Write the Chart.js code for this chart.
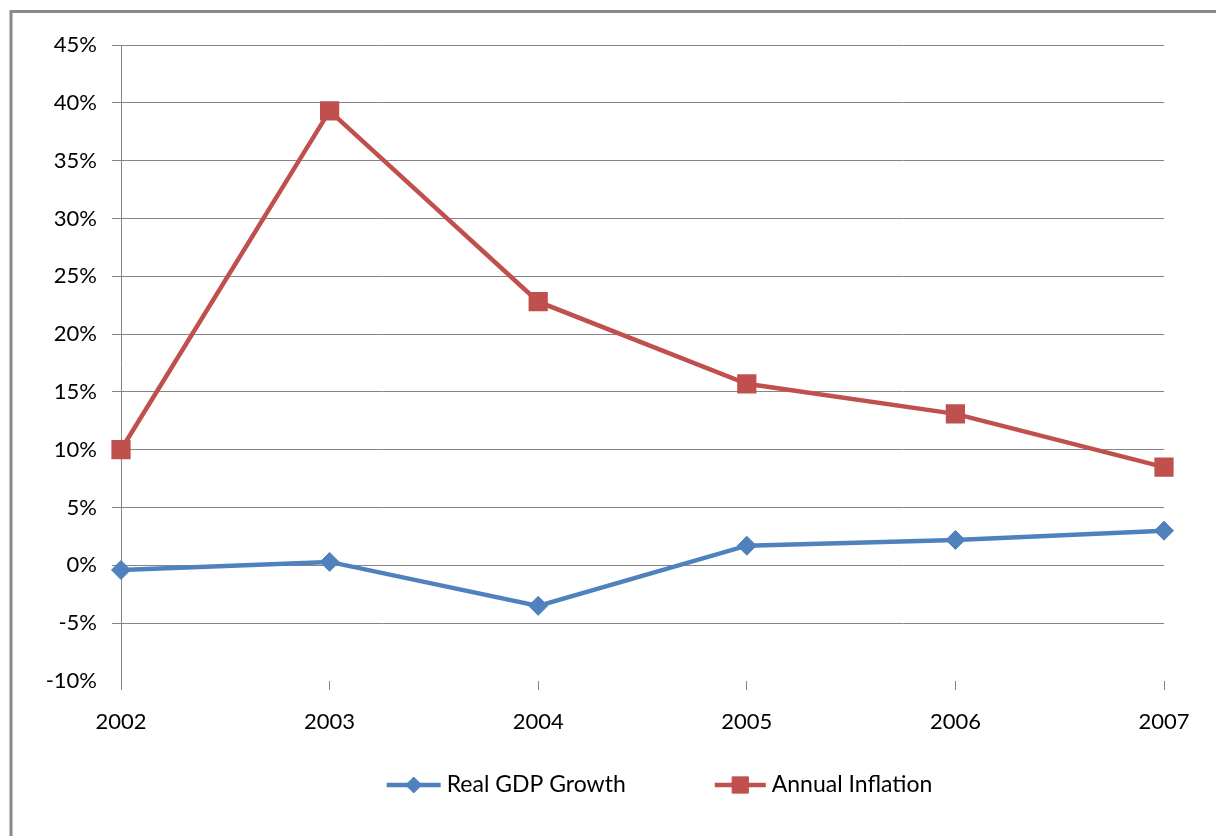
<!DOCTYPE html>
<html><head><meta charset="utf-8">
<script src="https://cdn.jsdelivr.net/npm/chart.js@4.4.1/dist/chart.umd.min.js"></script>
<style>html,body{margin:0;padding:0;background:#fff;overflow:hidden;} canvas{display:block;}</style>
</head><body>
<canvas id="c" width="1216" height="836"></canvas>
<script>
// ---- data ----
const years = ['2002', '2003', '2004', '2005', '2006', '2007'];
const gdpGrowth = [-0.4, 0.3, -3.5, 1.7, 2.2, 3.0];
const inflation = [10.0, 39.3, 22.8, 15.7, 13.1, 8.5];
const seriesNames = ['Real GDP Growth', 'Annual Inflation'];
const yTickValues = [-10, -5, 0, 5, 10, 15, 20, 25, 30, 35, 40, 45];

const FONT = 'Lato';
const AXIS_FSIZE = 22;
const LEGEND_FSIZE = 23;
const GRID = '#858585';
const BLUE = '#4F81BD';
const RED = '#C0504D';

const frame = {
  id: 'frame',
  beforeDraw(chart) {
    const ctx = chart.ctx;
    ctx.save();
    ctx.fillStyle = '#fff';
    ctx.fillRect(0, 0, chart.width, chart.height);
    ctx.strokeStyle = '#898989';
    ctx.lineWidth = 3;
    ctx.beginPath();
    ctx.moveTo(11, chart.height + 5);
    ctx.lineTo(11, 11.5);
    ctx.lineTo(chart.width + 5, 11.5);
    ctx.stroke();
    ctx.restore();
  }
};

const legendPlugin = {
  id: 'customLegend',
  afterDraw(chart) {
    const ctx = chart.ctx;
    ctx.save();
    ctx.font = LEGEND_FSIZE + 'px ' + FONT;
    ctx.textBaseline = 'middle';
    ctx.textAlign = 'left';
    const ds = chart.data.datasets;
    const lineW = [54, 51];
    const gap = 6, between = 89;
    const widths = ds.map(d => ctx.measureText(d.label).width);
    let total = 0;
    ds.forEach((d, i) => { total += lineW[i] + gap + widths[i]; });
    total += between;
    let x = 659.5 - total / 2;
    const y = 785;
    const legendRadius = [8, 11.5];
    ds.forEach((d, i) => {
      ctx.strokeStyle = d.borderColor;
      ctx.lineWidth = 4.5;
      ctx.beginPath();
      ctx.moveTo(x, y);
      ctx.lineTo(x + lineW[i], y);
      ctx.stroke();
      ctx.fillStyle = d.backgroundColor;
      ctx.strokeStyle = d.borderColor;
      ctx.lineWidth = 1;
      Chart.helpers.drawPoint(ctx, {pointStyle: d.pointStyle, radius: legendRadius[i], rotation: 0, borderWidth: 1}, x + lineW[i] / 2, y);
      x += lineW[i] + gap;
      ctx.fillStyle = '#000';
      ctx.fillText(d.label, x, y);
      x += widths[i] + between;
    });
    ctx.restore();
  }
};

new Chart(document.getElementById('c'), {
  type: 'line',
  data: {
    labels: years,
    datasets: [
      {
        label: seriesNames[0], data: gdpGrowth,
        borderColor: BLUE, backgroundColor: BLUE, borderWidth: 4.5,
        pointStyle: 'rectRot', pointRadius: 9.5, pointHoverRadius: 9.5,
        pointBackgroundColor: BLUE, pointBorderColor: BLUE, pointBorderWidth: 1,
        tension: 0, fill: false
      },
      {
        label: seriesNames[1], data: inflation,
        borderColor: RED, backgroundColor: RED, borderWidth: 4.5,
        pointStyle: 'rect', pointRadius: 13.6, pointHoverRadius: 13.6,
        pointBackgroundColor: RED, pointBorderColor: RED, pointBorderWidth: 0,
        tension: 0, fill: false
      }
    ]
  },
  options: {
    responsive: false,
    animation: false,
    devicePixelRatio: 1,
    layout: { padding: { left: 0, right: 52, top: 45, bottom: 95 } },
    plugins: { legend: { display: false }, tooltip: { enabled: false } },
    scales: {
      x: {
        offset: false,
        grid: { display: true, drawOnChartArea: false, drawTicks: true, tickLength: 9, color: GRID, offset: false },
        border: { display: false },
        ticks: { color: '#000', font: { family: FONT, size: AXIS_FSIZE }, padding: 19, maxRotation: 0, autoSkip: false },
        afterFit(scale) { scale.height = 60; }
      },
      y: {
        min: -10, max: 45,
        afterBuildTicks(scale) { scale.ticks = yTickValues.map(v => ({ value: v })); },
        grid: {
          color: ctx => (ctx.tick && ctx.tick.value === -10) ? 'rgba(0,0,0,0)' : GRID,
          lineWidth: 1, tickLength: 9, drawTicks: true
        },
        border: { display: true, color: GRID, width: 1 },
        ticks: { color: '#000', font: { family: FONT, size: AXIS_FSIZE }, padding: 15, callback: v => v + '%' },
        afterFit(scale) { scale.width = 121; }
      }
    }
  },
  plugins: [frame, legendPlugin]
});
</script>
</body></html>
